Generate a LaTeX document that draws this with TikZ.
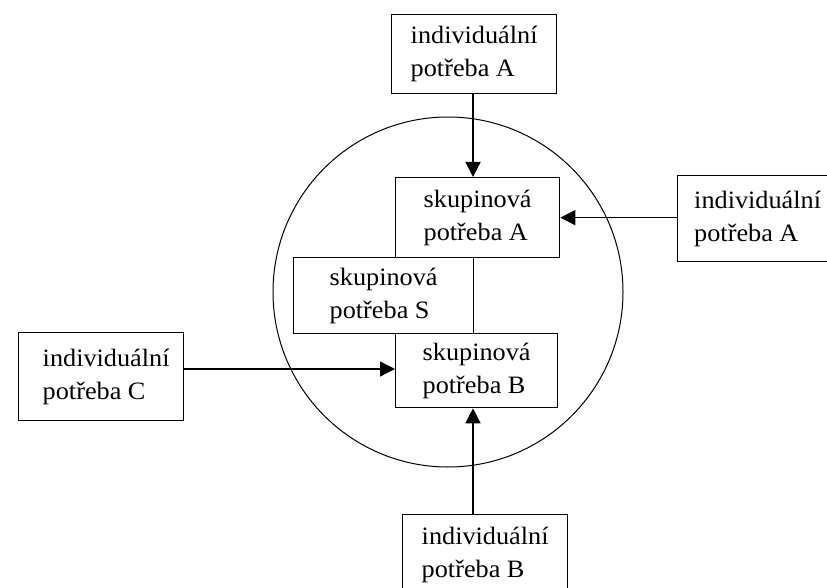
\documentclass[tikz,border=0pt]{standalone}
\usepackage{fontspec}
\setmainfont[FakeStretch=1.05]{Liberation Serif}
\usetikzlibrary{arrows.meta,calc}
\tikzset{
  box/.style={draw, line width=1.3pt, fill=white, align=left, inner sep=0pt,
              anchor=north west, font=\fontsize{25}{33}\selectfont},
  arr/.style={line width=1.3pt, -{Triangle[length=15pt,width=15pt]}},
  ring/.style={draw, circle, line width=1pt, inner sep=0pt}
}
\begin{document}
\begin{tikzpicture}[x=1pt,y=-1pt]
\useasboundingbox (0,0) rectangle (827,588);
\clip (0,0) rectangle (827,588);
\fill[white] (0,0) rectangle (827,588);
\node[ring, minimum size=350pt] (circ) at (448,292) {};
\node[box, minimum width=165pt, minimum height=79pt] (top) at (391,14) {individuální\\potřeba A};
\node[box, minimum width=180pt, minimum height=76pt] (gS) at (293,257) {skupinová\\potřeba S};
\node[box, minimum width=164pt, minimum height=80pt] (gA) at (395,177) {skupinová\\potřeba A};
\node[box, minimum width=162pt, minimum height=74pt] (gB) at (395,333) {skupinová\\potřeba B};
\node[box, minimum width=190pt, minimum height=86pt] (right) at (677,175) {individuální\hspace*{30pt}\\potřeba A\hspace*{30pt}};
\node[box, minimum width=165pt, minimum height=88pt] (left) at (18,332) {\hspace*{10pt}individuální\\\hspace*{10pt}potřeba C};
\node[box, minimum width=165pt, minimum height=80pt] (bot) at (402,514) {individuální\\potřeba B};
\coordinate (ax) at (473,0);
\draw[arr] (ax |- top.south) -- (ax |- gA.north);
\draw[arr] (right.west |- gA.east) -- (gA.east);
\draw[arr] (left.east |- 0,369) -- (gB.west |- 0,369);
\draw[arr] (ax |- bot.north) -- (ax |- gB.south);
\end{tikzpicture}
\end{document}
